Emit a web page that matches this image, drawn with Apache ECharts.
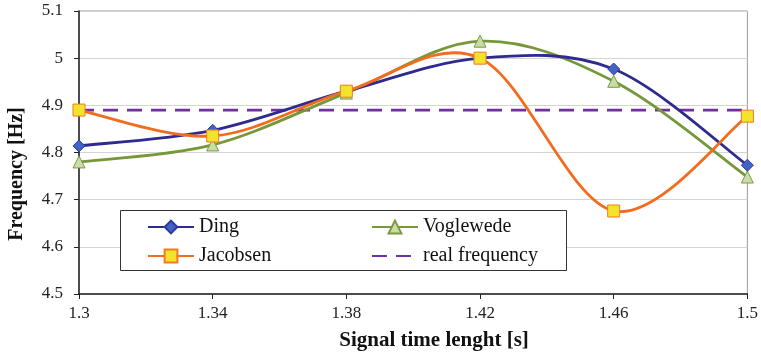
<!DOCTYPE html>
<html><head><meta charset="utf-8">
<script src="https://cdn.jsdelivr.net/npm/echarts@6/dist/echarts.min.js"></script>
<style>html,body{margin:0;padding:0;background:#fff}#c{width:761px;height:356px}</style>
</head><body><div id="c"></div>
<script>
var xValues = [1.3, 1.34, 1.38, 1.42, 1.46, 1.5];
var ding = [4.814, 4.847, 4.930, 5.000, 4.977, 4.773];
var voglewede = [4.780, 4.816, 4.926, 5.036, 4.951, 4.748];
var jacobsen = [4.890, 4.835, 4.930, 5.000, 4.676, 4.877];
var realFrequency = 4.89;
var seriesNames = ['Ding', 'Voglewede', 'Jacobsen', 'real frequency'];
var xTickLabels = ['1.3', '1.34', '1.38', '1.42', '1.46', '1.5'];
var yTickLabels = ['4.5', '4.6', '4.7', '4.8', '4.9', '5', '5.1'];

var colors = {
  ding: { line: '#2e2a8e', fill: '#4262c4', border: '#2e3a9e' },
  vog: { line: '#76973a', fill: '#c9dcaa', border: '#7a9a40' },
  jac: { line: '#f26c1f', fill: '#f4e32c', border: '#f27a22' },
  real: '#7030a0'
};

function pairs(v) { return xValues.map(function (x, i) { return [x, v[i]]; }); }
var font = 'Liberation Serif';

// Excel-like smoothed curve drawn in pixel space from the axis scales
function curveSeries(values, color, z) {
  return {
    type: 'custom', data: [[xValues[0], values[0]]], z: z, silent: true,
    renderItem: function (params, api) {
      var p = xValues.map(function (x, i) { return api.coord([x, values[i]]); });
      var n = p.length, d = 'M' + p[0][0] + ' ' + p[0][1];
      for (var i = 0; i < n - 1; i++) {
        var p0 = p[Math.max(i - 1, 0)], p1 = p[i], p2 = p[i + 1], p3 = p[Math.min(i + 2, n - 1)];
        var c1x = p1[0] + (p2[0] - p0[0]) / 6, c1y = p1[1] + (p2[1] - p0[1]) / 6;
        var c2x = p2[0] - (p3[0] - p1[0]) / 6, c2y = p2[1] - (p3[1] - p1[1]) / 6;
        d += ' C' + c1x + ' ' + c1y + ' ' + c2x + ' ' + c2y + ' ' + p2[0] + ' ' + p2[1];
      }
      return { type: 'path', shape: { pathData: d }, style: { fill: null, stroke: color, lineWidth: 2.8 } };
    }
  };
}

var legendText = { fontFamily: font, fontSize: 20, color: '#111' };
var chart = echarts.init(document.getElementById('c'));
chart.setOption({
  animation: false,
  textStyle: { fontFamily: font },
  grid: { left: 79, right: 11, top: 11, bottom: 62, show: true, borderColor: '#9a9a9a', borderWidth: 1 },
  graphic: [
    { type: 'rect', shape: { x: 120.5, y: 210.5, width: 446, height: 60 },
      style: { fill: '#fff', stroke: '#333', lineWidth: 1 }, z: 50 },
    { type: 'text', x: 17, y: 174, rotation: Math.PI / 2, z: 50,
      style: { text: 'Frequency [Hz]', fontFamily: font, fontSize: 20, fontWeight: 'bold', fill: '#111',
        align: 'center', verticalAlign: 'middle' } },
    { type: 'text', x: 434, y: 341, z: 50,
      style: { text: 'Signal time lenght [s]', fontFamily: font, fontSize: 21, fontWeight: 'bold', fill: '#111',
        align: 'center', verticalAlign: 'middle' } }
  ],
  legend: [
    { data: [{ name: seriesNames[0], lineStyle: { opacity: 1 } }, { name: seriesNames[2], lineStyle: { opacity: 1 } }],
      orient: 'vertical', left: 142, top: 212, itemGap: 9,
      itemWidth: 46, itemHeight: 16, textStyle: legendText, z: 60 },
    { data: [{ name: seriesNames[1], lineStyle: { opacity: 1 } }, { name: seriesNames[3], itemStyle: { opacity: 0 } }],
      orient: 'vertical', left: 366, top: 212, itemGap: 9,
      itemWidth: 46, itemHeight: 16, textStyle: legendText, z: 60 }
  ],
  xAxis: {
    type: 'value', min: 1.3, max: 1.5, interval: 0.04,
    axisLine: { lineStyle: { color: '#222', width: 1.5 } },
    axisTick: { show: true, length: 5, lineStyle: { color: '#222' } },
    axisLabel: { fontFamily: font, fontSize: 17, color: '#222', margin: 11,
      formatter: function (v) { var i = Math.round((v - 1.3) / 0.04); return xTickLabels[i] || ''; } },
    splitLine: { show: false }
  },
  yAxis: {
    type: 'value', min: 4.5, max: 5.1, interval: 0.1,
    axisLine: { show: true, lineStyle: { color: '#222', width: 1.5 } },
    axisTick: { show: true, length: 5, lineStyle: { color: '#222' } },
    axisLabel: { fontFamily: font, fontSize: 17, color: '#222', margin: 16,
      formatter: function (v) { var i = Math.round((v - 4.5) / 0.1); return yTickLabels[i] || ''; } },
    splitLine: { show: true, lineStyle: { color: '#d4d4d4', width: 1 } }
  },
  series: [
    { name: seriesNames[3], type: 'line', data: pairs(xValues.map(function () { return realFrequency; })),
      symbol: 'none', lineStyle: { color: colors.real, width: 2.8, type: [15, 9] }, itemStyle: { color: colors.real }, z: 1 },
    curveSeries(voglewede, colors.vog.line, 2),
    curveSeries(ding, colors.ding.line, 2),
    curveSeries(jacobsen, colors.jac.line, 2),
    { name: seriesNames[1], type: 'line', data: pairs(voglewede), symbol: 'triangle', symbolSize: 12,
      lineStyle: { color: colors.vog.line, width: 2.8, opacity: 0 },
      itemStyle: { color: colors.vog.fill, borderColor: colors.vog.border, borderWidth: 1 }, z: 4 },
    { name: seriesNames[0], type: 'line', data: pairs(ding), symbol: 'diamond', symbolSize: 12,
      lineStyle: { color: colors.ding.line, width: 2.8, opacity: 0 },
      itemStyle: { color: colors.ding.fill, borderColor: colors.ding.border, borderWidth: 1 }, z: 5 },
    { name: seriesNames[2], type: 'line', data: pairs(jacobsen), symbol: 'rect', symbolSize: 12,
      lineStyle: { color: colors.jac.line, width: 2.8, opacity: 0 },
      itemStyle: { color: colors.jac.fill, borderColor: colors.jac.border, borderWidth: 1 }, z: 6 }
  ]
});
</script></body></html>
